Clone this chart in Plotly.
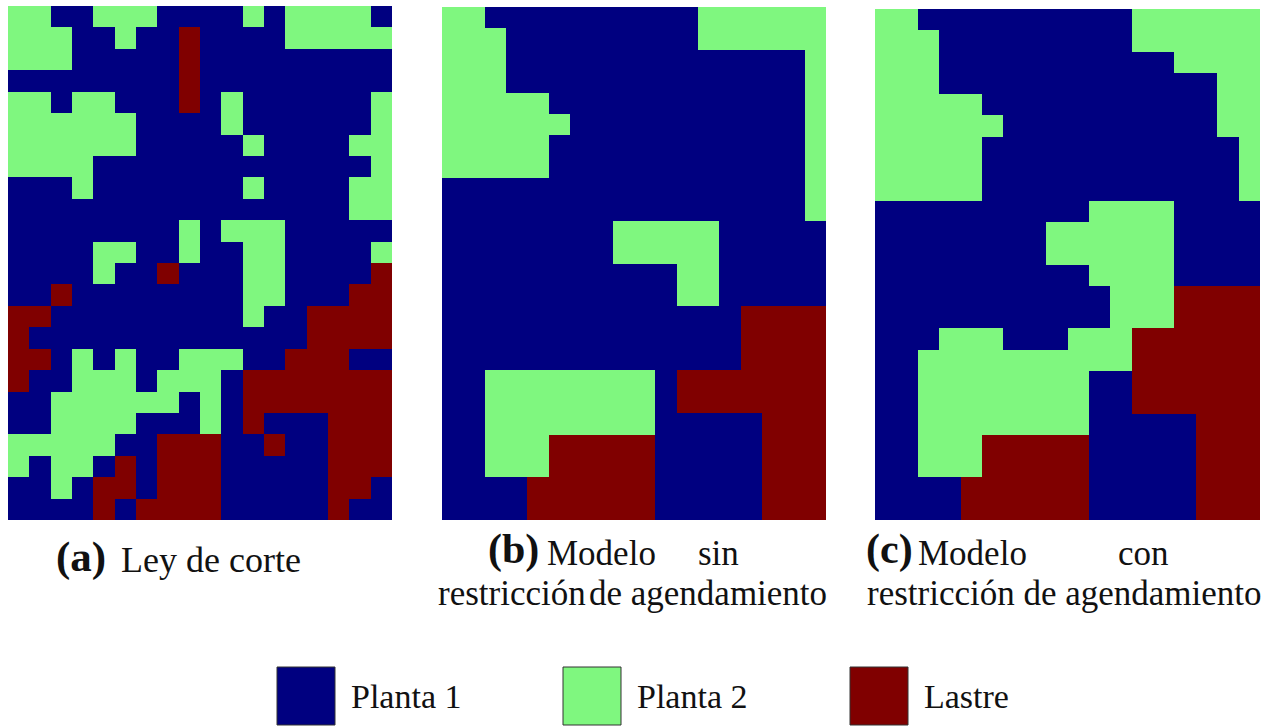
import plotly.graph_objects as go

W, H = 1284, 726

# Category legend: code letter used in the grids, label and colour
categories = ["Planta 1", "Planta 2", "Lastre"]
category_codes = ["B", "G", "R"]
category_colors = ["#000080", "#7ff77f", "#800000"]

# Block destination grids (24 rows x 18 columns, row 0 at the top)
grid_ley_corte = [
    "GGBBGGGBBBBGBGGGGB",
    "GGGBBGBBRBBBBGGGGG",
    "GGGBBBBBRBBBBBBBBB",
    "BBBBBBBBRBBBBBBBBB",
    "GGBGGBBBRBGBBBBBBG",
    "GGGGGGBBBBGBBBBBBG",
    "GGGGGGBBBBBGBBBBGG",
    "GGGGBBBBBBBBBBBBBG",
    "BBBGBBBBBBBGBBBBGG",
    "BBBBBBBBBBBBBBBBGG",
    "BBBBBBBBGBGGGBBBBB",
    "BBBBGGBBGBBGGBBBBG",
    "BBBBGBBRBBBGGBBBBR",
    "BBRBBBBBBBBGGBBBRR",
    "RRBBBBBBBBBGBBRRRR",
    "RBBBBBBBBBBBBBRRRR",
    "RRBGBGBBGGGBBRRRBB",
    "RBBGGGBGGGBRRRRRRR",
    "BBGGGGGGBGBRRRRRRR",
    "BBGGGGBBBGBRBBBRRR",
    "GGGGGBBRRRBBRBBRRR",
    "GBGGBRBRRRBBBBBRRR",
    "BBGBRRBRRRBBBBBRRB",
    "BBBBRBRRRRBBBBBRBB",
]

grid_sin_restriccion = [
    "GGBBBBBBBBBBGGGGGG",
    "GGGBBBBBBBBBGGGGGG",
    "GGGBBBBBBBBBBBBBBG",
    "GGGBBBBBBBBBBBBBBG",
    "GGGGGBBBBBBBBBBBBG",
    "GGGGGGBBBBBBBBBBBG",
    "GGGGGBBBBBBBBBBBBG",
    "GGGGGBBBBBBBBBBBBG",
    "BBBBBBBBBBBBBBBBBG",
    "BBBBBBBBBBBBBBBBBG",
    "BBBBBBBBGGGGGBBBBB",
    "BBBBBBBBGGGGGBBBBB",
    "BBBBBBBBBBBGGBBBBB",
    "BBBBBBBBBBBGGBBBBB",
    "BBBBBBBBBBBBBBRRRR",
    "BBBBBBBBBBBBBBRRRR",
    "BBBBBBBBBBBBBBRRRR",
    "BBGGGGGGGGBRRRRRRR",
    "BBGGGGGGGGBRRRRRRR",
    "BBGGGGGGGGBBBBBRRR",
    "BBGGGRRRRRBBBBBRRR",
    "BBGGGRRRRRBBBBBRRR",
    "BBBBRRRRRRBBBBBRRR",
    "BBBBRRRRRRBBBBBRRR",
]

grid_con_restriccion = [
    "GGBBBBBBBBBBGGGGGG",
    "GGGBBBBBBBBBGGGGGG",
    "GGGBBBBBBBBBBBGGGG",
    "GGGBBBBBBBBBBBBBGG",
    "GGGGGBBBBBBBBBBBGG",
    "GGGGGGBBBBBBBBBBGG",
    "GGGGGBBBBBBBBBBBBG",
    "GGGGGBBBBBBBBBBBBG",
    "GGGGGBBBBBBBBBBBBG",
    "BBBBBBBBBBGGGGBBBB",
    "BBBBBBBBGGGGGGBBBB",
    "BBBBBBBBGGGGGGBBBB",
    "BBBBBBBBBBGGGGBBBB",
    "BBBBBBBBBBBGGGRRRR",
    "BBBBBBBBBBBGGGRRRR",
    "BBBGGGBBBGGGRRRRRR",
    "BBGGGGGGGGGGRRRRRR",
    "BBGGGGGGGGBBRRRRRR",
    "BBGGGGGGGGBBRRRRRR",
    "BBGGGGGGGGBBBBBRRR",
    "BBGGGRRRRRBBBBBRRR",
    "BBGGGRRRRRBBBBBRRR",
    "BBBBRRRRRRBBBBBRRR",
    "BBBBRRRRRRBBBBBRRR",
]

grids = [grid_ley_corte, grid_sin_restriccion, grid_con_restriccion]

# Pixel boxes of the three maps: (left, top, right, bottom)
panel_boxes = [(8, 6, 392, 520), (442, 7, 826, 520), (875, 9, 1260, 520)]

SERIF = "Liberation Serif, Times New Roman, serif"

n = len(category_colors)
colorscale = []
for i, col in enumerate(category_colors):
    colorscale.append([i / n, col])
    colorscale.append([(i + 1) / n, col])

fig = go.Figure()
layout_axes = {}
for k, (grid, box) in enumerate(zip(grids, panel_boxes)):
    z = [[category_codes.index(ch) for ch in row] for row in grid]
    nrows, ncols = len(z), len(z[0])
    suffix = "" if k == 0 else str(k + 1)
    fig.add_trace(go.Heatmap(
        z=z,
        x=list(range(ncols)),
        y=list(range(nrows)),
        colorscale=colorscale,
        zmin=-0.5, zmax=n - 0.5,
        showscale=False,
        hoverinfo="skip",
        xaxis="x" + suffix, yaxis="y" + suffix,
    ))
    left, top, right, bottom = box
    layout_axes["xaxis" + suffix] = dict(
        domain=[left / W, right / W], range=[-0.5, ncols - 0.5],
        visible=False, fixedrange=True, anchor="y" + suffix,
    )
    layout_axes["yaxis" + suffix] = dict(
        domain=[1 - bottom / H, 1 - top / H], range=[nrows - 0.5, -0.5],
        visible=False, fixedrange=True, anchor="x" + suffix,
    )

# Caption pieces: (text, x_px, baseline_px, font_size, xanchor)
caption_pieces = [
    ("<b>(a)</b>", 55, 572, 43, "left"),
    ("Ley de corte", 120, 572, 36, "left"),
    ("<b>(b)</b>", 487, 564, 42, "left"),
    ("Modelo", 546, 565, 35, "left"),
    ("sin", 697, 565, 35, "left"),
    ("restricción", 437, 605, 35, "left"),
    ("de agendamiento", 828, 605, 35, "right"),
    ("<b>(c)</b>", 865, 564, 42, "left"),
    ("Modelo", 917, 565, 35, "left"),
    ("con", 1117, 565, 35, "left"),
    ("restricción de agendamiento", 866, 605, 35, "left"),
]

annotations = []
for text, x, base, size, anchor in caption_pieces:
    annotations.append(dict(
        text=text, x=x / W, y=1 - (base - 0.3375 * size) / H,
        xref="paper", yref="paper", xanchor=anchor, yanchor="middle",
        showarrow=False, borderpad=0,
        font=dict(family=SERIF, size=size, color="#111111"),
    ))

# Legend swatches and labels
legend_left = [277, 563, 850]
swatch_size = 58
swatch_top = 667
legend_baseline = 708
legend_font = 34
shapes = []
for label, col, x0 in zip(categories, category_colors, legend_left):
    shapes.append(dict(
        type="rect", xref="paper", yref="paper",
        x0=x0 / W, x1=(x0 + swatch_size) / W,
        y0=1 - (swatch_top + swatch_size) / H, y1=1 - swatch_top / H,
        fillcolor=col, line=dict(color="#333333", width=1),
    ))
    annotations.append(dict(
        text=label, x=(x0 + swatch_size + 15) / W,
        y=1 - (legend_baseline - 0.3375 * legend_font) / H,
        xref="paper", yref="paper", xanchor="left", yanchor="middle",
        showarrow=False, borderpad=0,
        font=dict(family=SERIF, size=legend_font, color="#111111"),
    ))

fig.update_layout(
    width=W, height=H,
    margin=dict(l=0, r=0, t=0, b=0),
    paper_bgcolor="white", plot_bgcolor="white",
    showlegend=False,
    annotations=annotations,
    shapes=shapes,
    **layout_axes,
)

fig.write_html("out.html", include_plotlyjs=True, config={"displayModeBar": False})
